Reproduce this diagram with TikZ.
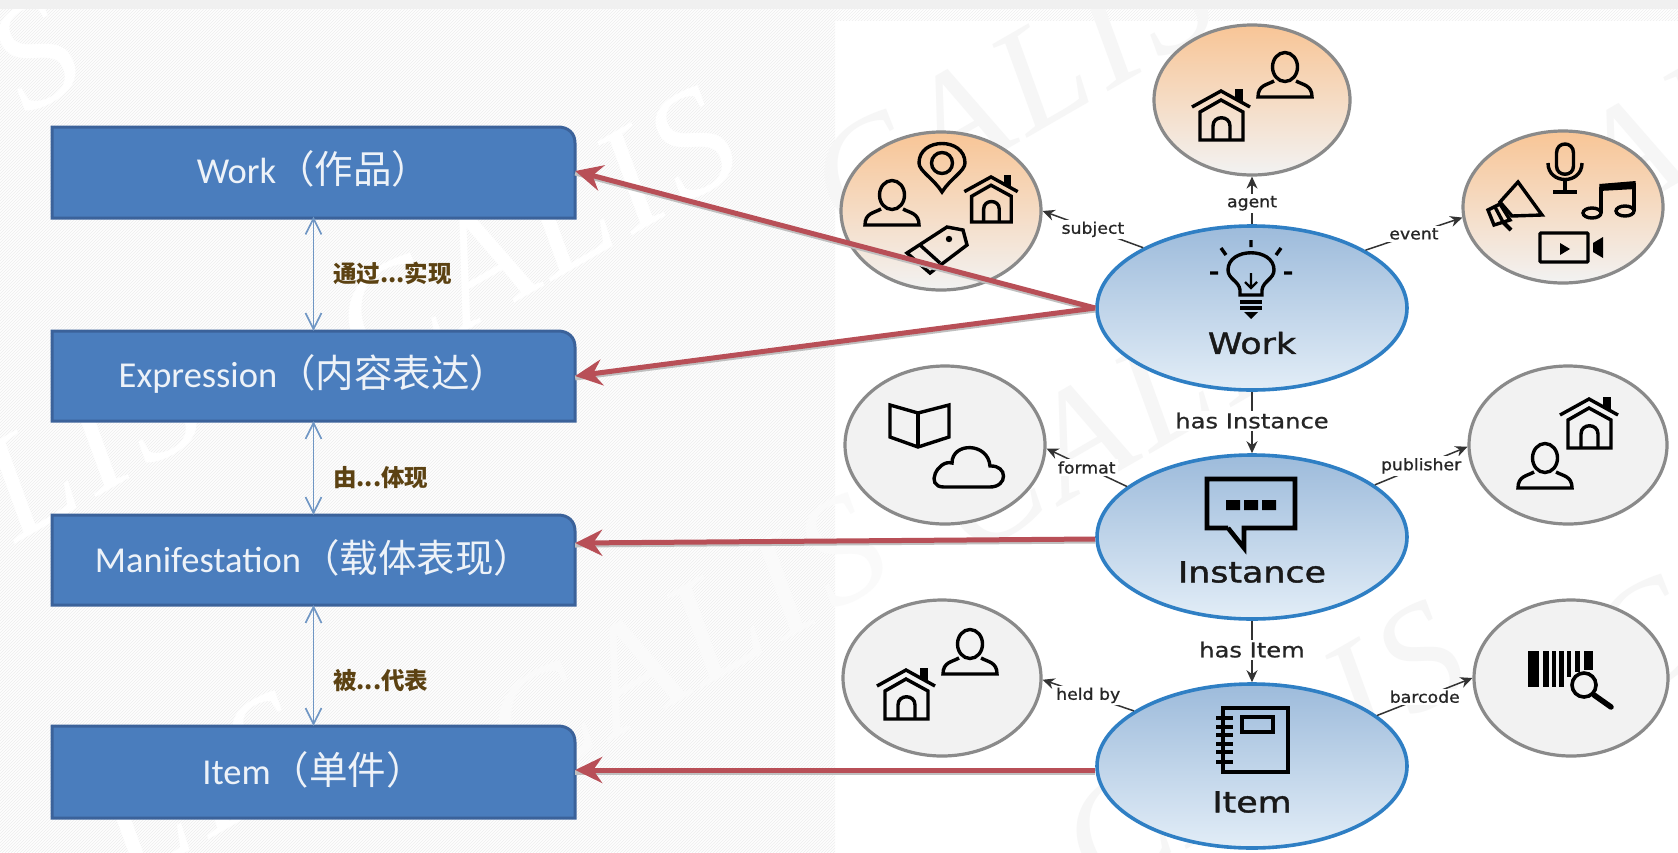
\documentclass[tikz,border=0pt]{standalone}
\usepackage{fontspec}
\setmainfont{Carlito}
\newfontfamily\cjk{Noto Sans CJK SC}
\newfontfamily\labf[FakeStretch=1.08,FakeBold=1]{DejaVu Sans}
\newfontfamily\labm[FakeStretch=1.18,FakeBold=0.8]{DejaVu Sans}
\newfontfamily\titf[FakeStretch=1.2,FakeBold=1.4]{DejaVu Sans}
\newfontfamily\wmf[LetterSpace=6]{Liberation Serif}
\usetikzlibrary{shapes.geometric,patterns,arrows.meta,calc}
\definecolor{boxfill}{HTML}{4A7DBD}
\definecolor{boxline}{HTML}{3B629A}
\definecolor{tagred}{HTML}{B84F57}
\definecolor{dbl}{HTML}{6F96C4}
\definecolor{brn}{HTML}{5C4212}
\definecolor{core1}{HTML}{9DBBDB}
\definecolor{core2}{HTML}{E2EDF7}
\definecolor{coreb}{HTML}{2F7FC4}
\definecolor{orng}{HTML}{F8C596}
\definecolor{satg}{HTML}{F2F2F2}
\definecolor{satb}{HTML}{8A8A8A}
\definecolor{hatchb}{HTML}{FEFEFE}
\definecolor{hatchl}{HTML}{EEEEEE}
\definecolor{wmgrey}{HTML}{F6F6F6}
\tikzset{
 bluebx/.style={fill=boxfill,draw=boxline,line width=3pt},
 bxtext/.style={inner sep=0pt,text=white!90!boxfill,font=\fontsize{36.5}{38}\selectfont},
 core/.style={ellipse,inner sep=0pt,minimum width=310pt,minimum height=164pt,draw=coreb,line width=3.6pt,top color=core1,bottom color=core2},
 sato/.style={ellipse,inner sep=0pt,minimum width=196pt,minimum height=150pt,draw=satb,line width=3.2pt,top color=orng,bottom color=satg},
 satw/.style={ellipse,inner sep=0pt,minimum width=196pt,minimum height=150pt,draw=satb,line width=3.2pt,fill=satg},
 ic/.style={draw=black,line width=3.4pt,line join=miter,fill=none},
 conn/.style={draw=black!80,line width=1.5pt,-{Stealth[length=12pt,width=11pt]}},
 lab/.style={fill=white,inner sep=2pt,text=black!85,font=\labf\fontsize{16}{18}\selectfont},
 labb/.style={fill=white,inner sep=2pt,text=black!85,font=\labm\fontsize{20.5}{23}\selectfont},
 title/.style={inner sep=0pt,text=black!90,font=\titf\fontsize{29}{32}\selectfont},
 red/.style={draw=tagred,line width=5pt,-{Stealth[length=27pt,width=26pt,inset=9pt]},
   preaction={draw=black!25,line width=5pt,-{},transform canvas={yshift=-2pt}}},
 dblarr/.style={draw=dbl,line width=1.6pt,{Straight Barb[length=16pt,width=16pt]}-{Straight Barb[length=16pt,width=16pt]}},
 cjklab/.style={inner sep=0pt,anchor=west,text=brn,font=\cjk\bfseries\fontsize{23.5}{26}\selectfont},
 wm/.style={rotate=30,inner sep=0pt,text=wmgrey,font=\wmf\itshape\fontsize{150}{150}\selectfont},
 pics/house/.style={code={
   \draw[ic] (-29,-8) -- (0,-24) -- (29,-8);
   \draw[ic] (-21,-3) -- (0,-15) -- (22,-3) -- (22,25) -- (-21,25) -- cycle;
   \draw[ic] (-8,25) -- (-8,11) .. controls (-8,0) and (9,0) .. (9,11) -- (9,25);
   \fill (14,-26) rectangle (22,-14);
 }},
 pics/person/.style={code={
   \draw[ic] (0,-9) ellipse [x radius=12.5pt,y radius=14.5pt];
   \draw[ic] (-11,5) .. controls (-18,9) and (-27,9) .. (-27,21) -- (27,21) .. controls (27,9) and (18,9) .. (11,5);
 }},
 pics/pin/.style={code={
   \draw[ic] (0,25) .. controls (-8,12) and (-23,4) .. (-23,-4) .. controls (-23,-30) and (23,-30) .. (23,-4) .. controls (23,4) and (8,12) .. (0,25) -- cycle;
   \draw[ic] (0,-4) circle [radius=10.5pt];
 }},
 pics/tagicon/.style={code={
   \draw[ic] (-8,22) -- (-31,2) -- (9,-24) -- (25,-21) -- (29,-6) -- cycle;
   \draw[ic] (-18,-6) -- (2,12);
   \fill (11,-12) circle [radius=3.2pt];
 }},
 pics/bulb/.style={code={
   \draw[ic] (-11,22) -- (-11,17) .. controls (-12,8) and (-23,6) .. (-23,-3) .. controls (-23,-26) and (23,-26) .. (23,-3) .. controls (23,6) and (12,8) .. (11,17) -- (11,22) -- cycle;
   \draw[ic,line width=2.4pt] (0,0) -- (0,14) (-6,9) -- (0,15) -- (6,9);
   \draw[ic] (-11,29) -- (11,29) (-11,35) -- (11,35);
   \fill (-7,39) -- (7,39) -- (0,46) -- cycle;
   \draw[ic] (0,-33) -- (0,-26) (-30,-25) -- (-25,-18) (30,-25) -- (25,-18) (-41,0) -- (-33,0) (41,0) -- (33,0);
 }},
 pics/speech/.style={code={
   \draw[ic,line width=4.6pt] (-23,23) -- (-44,23) -- (-44,-26) -- (44,-26) -- (44,23) -- (-7,23) -- (-7,43) -- (-23,23);
   \fill (-25,-5) rectangle (-11,5) (-7,-5) rectangle (7,5) (11,-5) rectangle (25,5);
 }},
 pics/notebook/.style={code={
   \draw[ic,line width=4pt] (-29,-33) rectangle (36,31);
   \draw[ic,line width=3.6pt] (-10,-24) rectangle (21,-9);
   \foreach \yy in {-23,-14,-6,3,11,21} {\draw[ic,line width=3.6pt] (-36,\yy) -- (-19,\yy);}
 }},
 pics/bookicon/.style={code={
   \draw[ic] (-29,-20) -- (-1,-12) -- (30,-20) -- (30,12) -- (-1,22) -- (-29,12) -- cycle;
   \draw[ic] (-1,-12) -- (-1,22);
 }},
 pics/cloud/.style={code={
   \draw[ic] (-22,19) -- (24,19) .. controls (42,19) and (42,-3) .. (24,-2) .. controls (22,-26) and (-14,-26) .. (-14,-5) .. controls (-28,-9) and (-42,19) .. (-22,19) -- cycle;
 }},
 pics/mic/.style={code={
   \draw[ic] (-8.5,-16) .. controls (-8.5,-28) and (8.5,-28) .. (8.5,-16) -- (8.5,-3) .. controls (8.5,8) and (-8.5,8) .. (-8.5,-3) -- cycle;
   \draw[ic] (-17,-6) .. controls (-17,16) and (17,16) .. (17,-6);
   \draw[ic] (0,11) -- (0,23) (-12,23) -- (12,23);
 }},
 pics/music/.style={code={
   \draw[ic] (-19,12) ellipse [x radius=9pt,y radius=5pt];
   \draw[ic] (14,10) ellipse [x radius=9pt,y radius=5pt];
   \draw[ic] (-10,12) -- (-10,-14) (23,10) -- (23,-18);
   \fill (-11.7,-17) -- (24.7,-20) -- (24.7,-12) -- (-11.7,-10) -- cycle;
 }},
 pics/megaphone/.style={code={
   \draw[ic] (5,-25) -- (29,8) -- (-1,9) -- (-13,-5) -- cycle;
   \draw[ic] (-25,3) -- (-13,-3) -- (-3,13) -- (-19,18) -- cycle;
   \draw[ic] (-18,0) -- (-10,15);
   \draw[ic,line width=4pt] (-10,15) -- (-2,23);
 }},
 pics/video/.style={code={
   \draw[ic,rounded corners=1pt] (-31,-15) rectangle (17,14);
   \fill (-11,-5) -- (-11,7) -- (-1,1) -- cycle;
   \fill (22,-5) -- (32,-11) -- (32,10) -- (22,4) -- cycle;
 }},
 pics/barcodes/.style={code={
   \foreach \bx/\bw/\bh in {0/11/36,15/6/36,24/4/36,31/5/36,39/4/26,47/5/21,56/9/19}{
     \fill (\bx,0) rectangle (\bx+\bw,\bh);}
   \draw[ic,line width=3.6pt] (56,34) circle [radius=12pt];
   \draw[ic,line width=5.5pt,line cap=round] (66,44) -- (83,56);
 }}
}
\newcommand{\bluebox}[5]{% name, top, bottom, centre y, text
 \path[bluebx] (52,#3) -- (52,#2) -- (558,#2) .. controls (568,#2) and (575,#2+6) .. (575,#2+16) -- (575,#3) -- cycle;
 \node[inner sep=0pt,minimum width=523pt,minimum height=#3pt-#2pt] (#1) at (313.5,#4) {};
 \node[bxtext,yshift=2pt] (#1t) at (#1) {#5};
}
\newcommand{\cj}[1]{{\cjk\fontsize{38.5}{40}\selectfont #1}}
\begin{document}
\begin{tikzpicture}[x=1pt,y=-1pt]
\useasboundingbox (0,0) rectangle (1678,852);
\begin{scope}
\clip (0,0) rectangle (1678,852);
\fill[white] (0,0) rectangle (1678,852);
% hatched left part, top band
\fill[hatchb] (0,0) rectangle (835,852);
\fill[pattern=north east lines,pattern color=hatchl] (0,0) rectangle (835,852);
\fill[pattern=north east lines,pattern color=hatchl] (835,0) rectangle (1678,20);
\fill[black!6] (0,0) rectangle (1678,9);
% watermark
\begin{scope}
\clip (0,9) rectangle (1678,852);
\node[wm] (wma) at (1011,91) {CALIS};
\node[wm,text=white] (wmb) at (35,55) {S};
\node[wm,text=white] (wmc) at (535,235) {CALIS};
\node[wm] (wmd) at (1134,407) {CALIS};
\node[wm,text=white!50!wmgrey] (wme) at (685,642) {CALIS};
\node[wm,text=white] (wmf) at (203,787) {LIS};
\node[wm] (wmg) at (1263,749) {CALIS};
\node[wm] (wmh) at (1620,160) {CAL};
\node[wm,text=white] (wmi) at (90,445) {LIS};
\node[wm] (wmj) at (1640,640) {C};
\end{scope}
\end{scope}

% left column
\bluebox{wbox}{127}{218}{171}{Work\cj{（作品）}}
\bluebox{ebox}{331}{421}{376}{Expression\cj{（内容表达）}}
\bluebox{mbox}{515}{605}{560}{Manifestation\cj{（载体表现）}}
\bluebox{ibox}{726}{818}{772}{Item\cj{（单件）}}

\draw[dblarr] (wbox.south) -- (ebox.north);
\draw[dblarr] (ebox.south) -- (mbox.north);
\draw[dblarr] (mbox.south) -- (ibox.north);
\node[cjklab] (l1) at (333,273) {通过...实现};
\node[cjklab] (l2) at (333,478) {由...体现};
\node[cjklab] (l3) at (333,681) {被...代表};

% core ellipses
\node[core] (work) at (1252,308) {};
\node[core] (inst) at (1252,537) {};
\node[core] (item) at (1252,766) {};
% satellites
\node[sato] (agent) at (1252,100) {};
\node[sato,minimum width=200pt,minimum height=158pt] (subj) at (941,211) {};
\node[sato,minimum width=200pt,minimum height=152pt] (event) at (1563,207) {};
\node[satw,minimum width=200pt,minimum height=158pt] (form) at (945,445) {};
\node[satw,minimum width=198pt,minimum height=158pt] (publ) at (1568,445) {};
\node[satw,minimum width=198pt,minimum height=156pt] (held) at (942,678) {};
\node[satw,minimum width=194pt,minimum height=156pt] (barc) at (1571,678) {};

% connectors
\draw[conn] (work.north) -- node[lab,pos=.44] (la) {agent} (agent.south);
\draw[conn] (work.151) -- node[lab] (ls) {subject} (subj.0);
\draw[conn] (work.27) -- node[lab] (le) {event} (event.186);
\draw[conn] (work.south) -- node[labb,pos=.47] (lhi) {has Instance} (inst.north);
\draw[conn] (inst.158) -- node[lab] (lf) {format} (form.-2);
\draw[conn] (inst.23) -- node[lab] (lp) {publisher} (publ.181);
\draw[conn] (inst.south) -- node[labb,pos=.47] (lhit) {has Item} (item.north);
\draw[conn] (item.155) -- node[lab] (lh) {held by} (held.-1);
\draw[conn] (item.22) -- node[lab] (lb) {barcode} (barc.180);

% titles
\node[title] (tw) at (1252,343) {Work};
\node[title] (ti) at (1252,572) {Instance};
\node[title] (tt) at (1252,802) {Item};

% icons
\pic at (1285,76) {person};
\pic at (1221,115) {house};
\pic at (892,204) {person};
\pic at (942,167) {pin};
\pic[scale=.92] at (991,199) {house};
\pic at (938,251) {tagicon};
\pic at (1251,273) {bulb};
\pic at (1565,169) {mic};
\pic at (1611,201) {music};
\pic at (1513,207) {megaphone};
\pic at (1571,248) {video};
\pic at (1251,505) {speech};
\pic at (919,425) {bookicon};
\pic at (966,468) {cloud};
\pic at (1589,423) {house};
\pic at (1545,467) {person};
\pic at (970,653) {person};
\pic at (906,694) {house};
\pic at (1528,651) {barcodes};
\pic at (1252,741) {notebook};

% red arrows
\draw[red] (work.west) -- (wbox.east);
\draw[red] (work.west) -- (ebox.east);
\draw[red] ([yshift=-2pt]inst.west) -- ([yshift=17pt]mbox.east);
\draw[red] ([yshift=-4pt]item.west) -- ([yshift=2pt]ibox.east);
\end{tikzpicture}
\end{document}
